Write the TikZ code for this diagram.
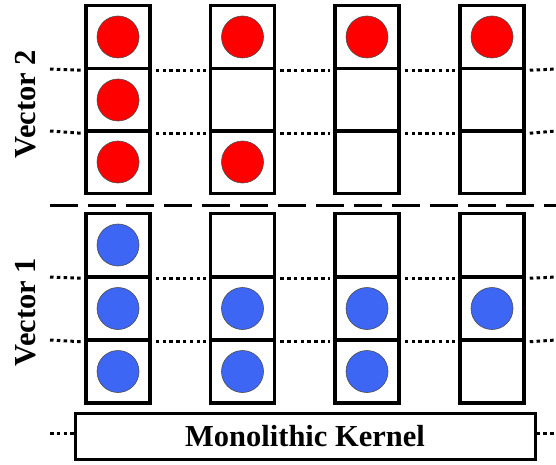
\documentclass[tikz,border=0pt]{standalone}
\usepackage{fontspec}
\setmainfont{Liberation Serif}
\usetikzlibrary{positioning}

\definecolor{ballred}{RGB}{255,0,0}
\definecolor{ballblue}{RGB}{62,102,245}
\tikzset{
  cell/.style={draw, line width=3.5pt, minimum width=64pt, minimum height=63pt, inner sep=0pt},
  ball/.style={circle, draw=black!70, line width=0.6pt, minimum size=42pt, inner sep=0pt},
  guide/.style={line width=3pt, dash pattern=on 3.5pt off 3.3pt},
}

\begin{document}
\begin{tikzpicture}[x=1pt, y=-1pt, font=\bfseries\fontsize{30.5}{30.5}\selectfont]
  \useasboundingbox (0,0) rectangle (556,465);
  % cells
  \foreach \c/\x in {1/118,2/242.5,3/367,4/492} {
    \foreach \r/\y in {1/37,2/100,3/162} {
      \node[cell] (t\c\r) at (\x,\y) {};
    }
    \foreach \r/\y in {1/245,2/308.5,3/371.5} {
      \node[cell] (b\c\r) at (\x,\y) {};
    }
  }
  % balls
  \foreach \n in {t11,t12,t13,t21,t23,t31,t41}
    \node[ball, fill=ballred] (ball-\n) at (\n) {};
  \foreach \n in {b11,b12,b13,b22,b23,b32,b33,b42}
    \node[ball, fill=ballblue] (ball-\n) at (\n) {};
  % dotted guides
  \foreach \s/\r/\y in {t/1/69,t/2/131,b/1/277,b/2/340} {
    \coordinate (gl-\s\r) at (50,\y);
    \coordinate (gr-\s\r) at (556,\y);
    \draw[guide] (gl-\s\r) -- ([xshift=-3pt]\s1\r.south west);
    \draw[guide] ([xshift=4pt]\s1\r.south east) -- ([xshift=-3pt]\s2\r.south west);
    \draw[guide] ([xshift=4pt]\s2\r.south east) -- ([xshift=-3pt]\s3\r.south west);
    \draw[guide] ([xshift=4pt]\s3\r.south east) -- ([xshift=-3pt]\s4\r.south west);
    \draw[guide] ([xshift=4pt]\s4\r.south east) -- (gr-\s\r);
  }
  % split
  \coordinate (sl) at (50,205);
  \coordinate (sr) at (556,205);
  \draw[line width=3pt, dash pattern=on 28pt off 10pt] (sl) -- (sr);
  % labels
  \node[rotate=90] (vec2) at (26,104) {Vector 2};
  \node[rotate=90] (vec1) at (26,312) {Vector 1};
  % kernel
  \node[draw, line width=3pt, minimum width=460pt, minimum height=46pt, inner sep=0pt]
    (kernel) at (305,436) {Monolithic Kernel};
  \coordinate (kl) at (50,433);
  \coordinate (kr) at (556,433);
  \draw[guide] (kl) -- (kernel.west |- kl);
  \draw[guide] (kernel.east |- kr) -- (kr);
\end{tikzpicture}
\end{document}
